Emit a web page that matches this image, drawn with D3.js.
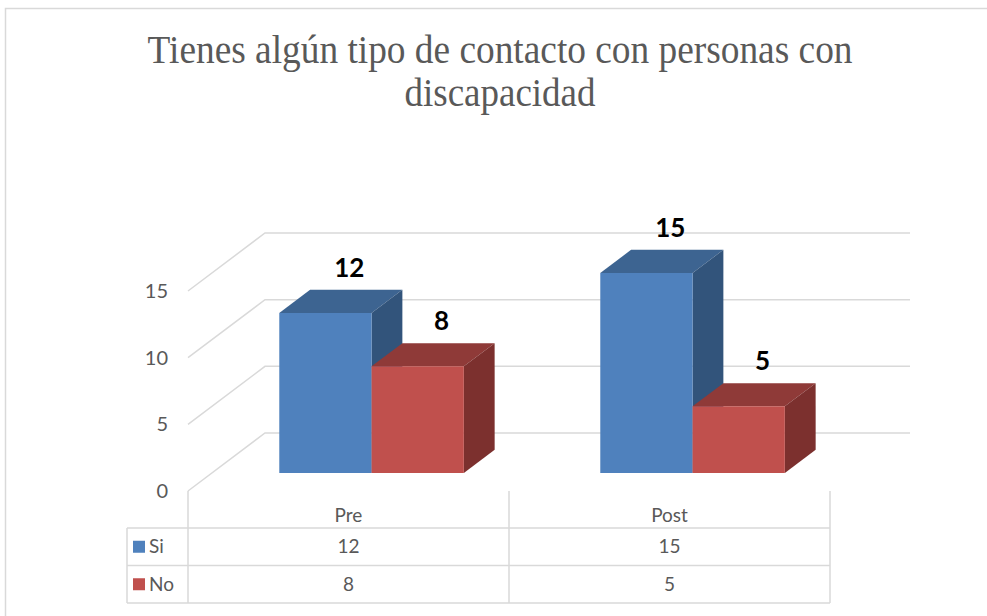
<!DOCTYPE html>
<html>
<head>
<meta charset="utf-8">
<script src="https://cdn.jsdelivr.net/npm/d3@7"></script>
<style>
  body { margin: 0; background: #fff; }
  svg text { font-family: Lato, "Open Sans", sans-serif; }
</style>
</head>
<body>
<div id="chart"></div>
<script>
var categories = ["Pre", "Post"];
var seriesNames = ["Si", "No"];
var siValues = [12, 15];
var noValues = [8, 5];
var yTicks = [0, 5, 10, 15];
var titleLines = ["Tienes algún tipo de contacto con personas con", "discapacidad"];

var width = 987, height = 616;
var colors = {
  Si: { front: "#4f81bd", top: "#3d6491", side: "#32547b" },
  No: { front: "#c0504d", top: "#8f3a38", side: "#7c302e" }
};

// oblique depth vector (front plane -> back wall)
var depthX = 77, depthY = -58;
var barD0 = 0.31, barD1 = 0.71;

var svg = d3.select("#chart").append("svg")
    .attr("width", width)
    .attr("height", height);

// chart border
svg.append("path")
    .attr("d", "M5.5," + height + "V8.5H" + width)
    .attr("fill", "none")
    .attr("stroke", "#d9d9d9")
    .attr("stroke-width", 1.5);

// title
svg.selectAll(".title")
    .data(titleLines)
    .enter()
    .append("text")
    .attr("class", "title")
    .attr("x", 500)
    .attr("y", (d, i) => 63 + i * 43)
    .attr("text-anchor", "middle")
    .attr("textLength", (d, i) => i == 0 ? 705 : 191)
    .attr("lengthAdjust", "spacingAndGlyphs")
    .style("font-family", "'Liberation Serif', 'Times New Roman', serif")
    .style("font-size", "40px")
    .style("fill", "#595959")
    .text(d => d);

var xScale = d3.scaleBand()
    .domain(categories)
    .range([188, 830]);

var yScale = d3.scaleLinear()
    .domain([0, 15])
    .range([491, 291]);

var bw = xScale.bandwidth();
var xSeries = d3.scaleBand()
    .domain(seriesNames)
    .range([bw * 0.21, bw * 0.785]);

// gridlines: side wall diagonal + back wall
var grid = svg.append("g").attr("class", "grid");
yTicks.forEach(function(t) {
    var y0 = yScale(t);
    grid.append("path")
        .attr("d", "M" + xScale.range()[0] + "," + y0 +
            "L" + (xScale.range()[0] + depthX) + "," + (y0 + depthY) +
            "L" + (xScale.range()[1] + depthX + 3) + "," + (y0 + depthY))
        .attr("fill", "none")
        .attr("stroke", "#d9d9d9")
        .attr("stroke-width", 1.5);
});

// y axis labels
svg.selectAll(".y-label")
    .data(yTicks)
    .enter()
    .append("text")
    .attr("class", "y-label")
    .attr("x", 168)
    .attr("y", d => yScale(d))
    .attr("dy", "0.35em")
    .attr("text-anchor", "end")
    .style("font-size", "20px")
    .style("fill", "#595959")
    .text(d => d);

// bars
var barData = [];
categories.forEach(function(c, i) {
    barData.push({ cat: c, series: "Si", value: siValues[i] });
    barData.push({ cat: c, series: "No", value: noValues[i] });
});

function pt(x, v, d) {
    return [x + d * depthX, yScale(v) + d * depthY];
}
function poly(points) {
    return "M" + points.map(p => p.join(",")).join("L") + "Z";
}

var bars = svg.append("g").attr("class", "bars");
barData.forEach(function(b) {
    var x0 = xScale(b.cat) + xSeries(b.series);
    var x1 = x0 + xSeries.bandwidth();
    var c = colors[b.series];
    var g = bars.append("g");
    // top face
    g.append("path")
        .attr("d", poly([pt(x0, b.value, barD0), pt(x1, b.value, barD0), pt(x1, b.value, barD1), pt(x0, b.value, barD1)]))
        .attr("fill", c.top);
    // right face
    g.append("path")
        .attr("d", poly([pt(x1, 0, barD0), pt(x1, b.value, barD0), pt(x1, b.value, barD1), pt(x1, 0, barD1)]))
        .attr("fill", c.side);
    // front face
    g.append("path")
        .attr("d", poly([pt(x0, 0, barD0), pt(x1, 0, barD0), pt(x1, b.value, barD0), pt(x0, b.value, barD0)]))
        .attr("fill", c.front);
    // label
    var top = pt((x0 + x1) / 2, b.value, barD1);
    g.append("text")
        .attr("x", top[0] - 7)
        .attr("y", top[1] - 13)
        .attr("text-anchor", "middle")
        .style("font-size", "26px")
        .style("font-weight", "bold")
        .style("fill", "#000")
        .text(b.value);
});

// data table
var table = svg.append("g").attr("class", "table");
var lineColor = "#d9d9d9";
var tableLeft = 127, rowTop = 528, rowH = 37.5;
var colX = [xScale.range()[0]].concat(categories.map(c => xScale(c) + bw));

colX.forEach(function(x) {
    table.append("line")
        .attr("x1", x).attr("x2", x)
        .attr("y1", 491).attr("y2", rowTop + rowH * 2)
        .attr("stroke", lineColor).attr("stroke-width", 1.5);
});
table.append("line")
    .attr("x1", tableLeft).attr("x2", tableLeft)
    .attr("y1", rowTop).attr("y2", rowTop + rowH * 2)
    .attr("stroke", lineColor).attr("stroke-width", 1.5);
[0, 1, 2].forEach(function(r) {
    table.append("line")
        .attr("x1", tableLeft).attr("x2", colX[colX.length - 1])
        .attr("y1", rowTop + r * rowH).attr("y2", rowTop + r * rowH)
        .attr("stroke", lineColor).attr("stroke-width", 1.5);
});

table.selectAll(".cat-label")
    .data(categories)
    .enter()
    .append("text")
    .attr("class", "cat-label")
    .attr("x", d => xScale(d) + bw / 2)
    .attr("y", 515)
    .attr("dy", "0.35em")
    .attr("text-anchor", "middle")
    .style("font-size", "19px")
    .style("fill", "#595959")
    .text(d => d);

var rows = [siValues, noValues];
seriesNames.forEach(function(s, r) {
    var cy = rowTop + r * rowH + rowH / 2;
    table.append("rect")
        .attr("x", 133).attr("y", cy - 6)
        .attr("width", 12).attr("height", 12)
        .attr("fill", colors[s].front);
    table.append("text")
        .attr("x", 149).attr("y", cy)
        .attr("dy", "0.35em")
        .style("font-size", "19px")
        .style("fill", "#595959")
        .text(s);
    table.selectAll(".val-" + s)
        .data(rows[r])
        .enter()
        .append("text")
        .attr("x", (d, i) => xScale(categories[i]) + bw / 2)
        .attr("y", cy)
        .attr("dy", "0.35em")
        .attr("text-anchor", "middle")
        .style("font-size", "19px")
        .style("fill", "#595959")
        .text(d => d);
});
</script>
</body>
</html>
